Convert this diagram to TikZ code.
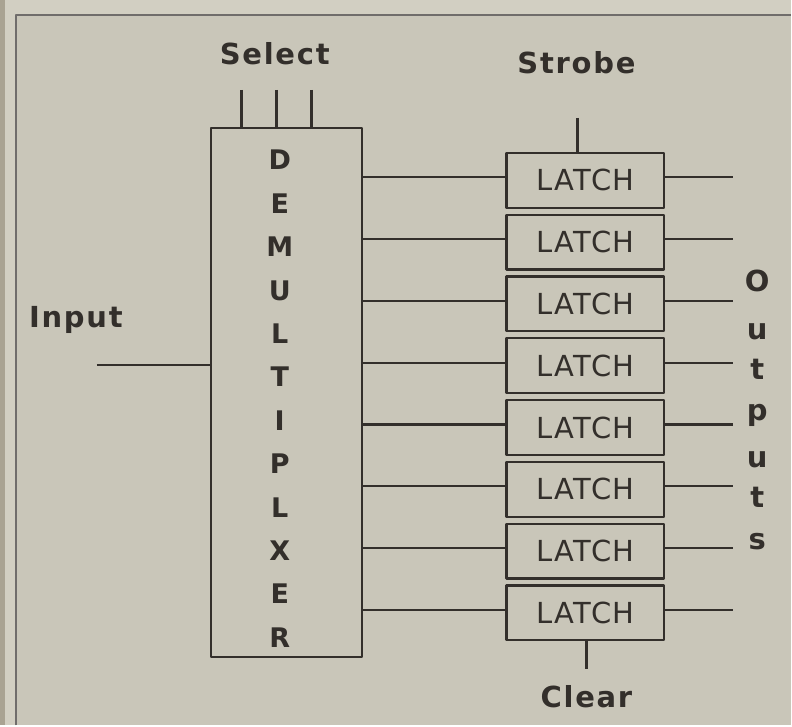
\documentclass[tikz,border=0pt]{standalone}
\usepackage{fontspec}
\setmainfont{DejaVu Sans}
\newfontfamily\macbold{DejaVu Sans Bold}[LetterSpace=6]
\newfontfamily\macplain{DejaVu Sans}[LetterSpace=5]
\usetikzlibrary{positioning}
\definecolor{paper}{HTML}{C9C6B9}
\definecolor{margin}{HTML}{D2CFC2}
\definecolor{spine}{HTML}{A9A392}
\definecolor{ink}{HTML}{332F2B}

\begin{document}
\begin{tikzpicture}[x=1pt, y=-1pt, line join=round]
\tikzset{
  wire/.style={draw=ink, line width=2.2pt},
  blockbox/.style={draw=ink, line width=2.2pt, rectangle, inner sep=0pt},
  latchbox/.style={blockbox, minimum width=158pt, minimum height=55pt,
    font=\macplain\fontsize{29}{29}\selectfont, text=ink},
  sigtext/.style={font=\macbold\fontsize{29}{29}\selectfont, text=ink, inner sep=0pt},
  lettertext/.style={font=\macbold\fontsize{27}{27}\selectfont, text=ink, inner sep=0pt, anchor=base}
}
% paper and page edge
\fill[margin] (0,0) rectangle (792,726);
\fill[paper] (16,15) rectangle (792,726);
\fill[spine] (0,0) rectangle (5,726);
\draw[ink!70, line width=1.5pt] (16,726) -- (16,15) -- (792,15);
\useasboundingbox (0,0) rectangle (792,726);

% demultiplexer
\node[blockbox, minimum width=151pt, minimum height=530pt] (demux) at (286.5,393) {};
\foreach \ch [count=\k from 0] in {D,E,M,U,L,T,I,P,L,X,E,R}
  \node[lettertext] (dm\k) at (280,170+\k*43.45) {\ch};

% select and input
\node[sigtext] (select) at (275,54) {Select};
\foreach \sx [count=\k] in {241.7,276.7,311.7} {
  \coordinate (sel\k) at (\sx,90);
  \draw[wire] (sel\k) -- (sel\k |- demux.north);
}
\node[sigtext] (input) at (76,320) {Input};
\coordinate (inend) at (97,365);
\draw[wire] (inend) -- (inend -| demux.west);

% latches
\foreach \i in {1,...,8} {
  \node[latchbox] (latch\i) at (586,118.6+\i*61.86) {LATCH};
  \draw[wire] ([yshift=3pt]latch\i.west -| demux.east) -- ([yshift=3pt]latch\i.west);
  \draw[wire] ([yshift=3pt]latch\i.east) -- ++(68,0);
}

% strobe and clear
\node[sigtext] (strobe) at (577,63) {Strobe};
\coordinate (stb) at (578,118);
\draw[wire] (stb) -- (stb |- latch1.north);
\node[sigtext] (clear) at (587,697) {Clear};
\coordinate (clr) at (587,670);
\draw[wire] (latch8.south -| clr) -- (clr);

% outputs
\foreach \ch/\yb [count=\k] in {O/292,u/340,t/380,p/421,u/468,t/508,s/550}
  \node[lettertext, font=\macbold\fontsize{29}{29}\selectfont] (out\k) at (758,\yb) {\ch};
\end{tikzpicture}
\end{document}
